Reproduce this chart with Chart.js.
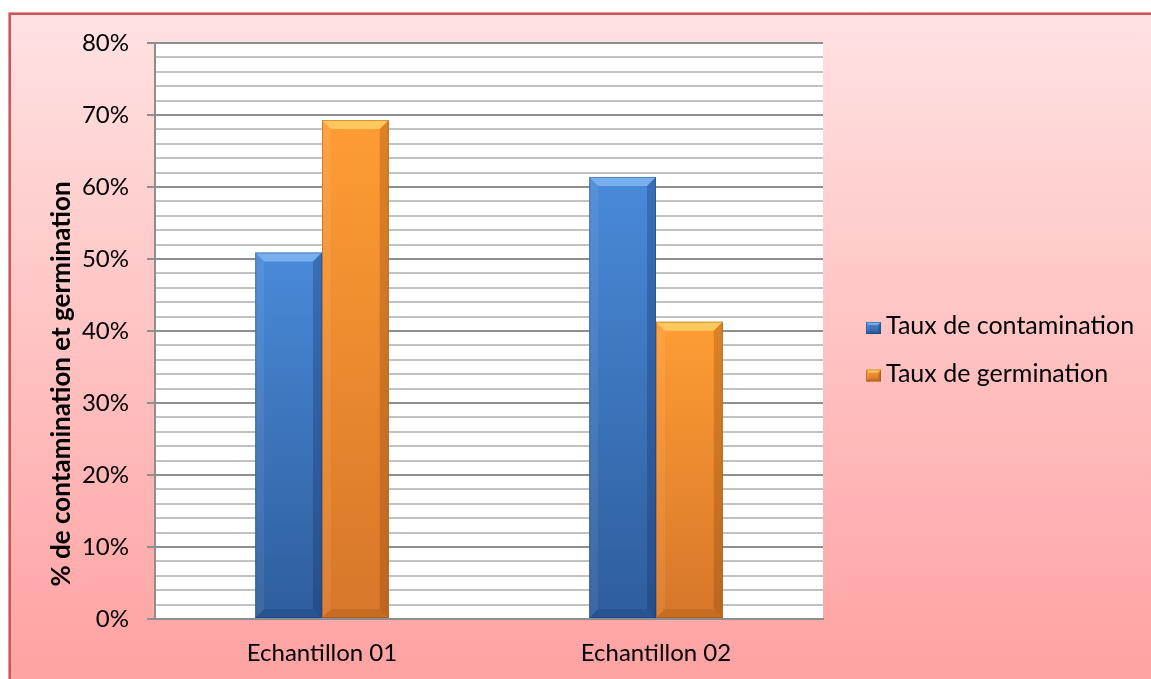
<!DOCTYPE html>
<html lang="fr">
<head>
<meta charset="utf-8">
<title>Taux de contamination et de germination</title>
<script src="https://cdn.jsdelivr.net/npm/chart.js@4.4.1/dist/chart.umd.min.js"></script>
<style>
  html, body { margin: 0; padding: 0; background: #ffffff; overflow: hidden; }
  #wrap { width: 1151px; height: 679px; }
</style>
</head>
<body>
<div id="wrap"><canvas id="chart" width="1151" height="679"></canvas></div>
<script>
// Samples on the category axis
const categories = ['Echantillon 01', 'Echantillon 02'];
// Series values, in percent
const contamination = [50.9, 61.4];
const germination = [69.3, 41.3];
const seriesNames = ['Taux de contamination', 'Taux de germination'];
// Value axis
const yMin = 0;
const yMax = 80;
const yMinorStep = 2;
const yMajorStep = 10;
const yTitle = '% de contamination et germination';

const FONT = 'Lato, "Liberation Sans", sans-serif';

// Shading for each series: body gradient and bevel facets
const TONES = [
  {
    bodyTop: '#4a8ad9', bodyBottom: '#2e5d9c',
    bevelTop: 'rgba(150,200,255,0.60)', bevelLeft: 'rgba(255,255,255,0.07)',
    bevelRight: 'rgba(15,40,95,0.28)', bevelBottom: 'rgba(15,40,95,0.18)',
    edge: 'rgba(25,55,110,0.40)'
  },
  {
    bodyTop: '#ff9c34', bodyBottom: '#d6772a',
    bevelTop: 'rgba(255,215,110,0.75)', bevelLeft: 'rgba(255,255,255,0.07)',
    bevelRight: 'rgba(120,55,0,0.26)', bevelBottom: 'rgba(120,55,0,0.16)',
    edge: 'rgba(140,70,10,0.40)'
  }
];

function barFill(seriesIndex) {
  return (context) => {
    const chart = context.chart;
    const area = chart.chartArea;
    const yScale = chart.scales.y;
    if (!area || !yScale || context.raw == null) return TONES[seriesIndex].bodyTop;
    const top = yScale.getPixelForValue(context.raw);
    const bottom = yScale.getPixelForValue(yMin);
    const g = chart.ctx.createLinearGradient(0, top, 0, bottom);
    g.addColorStop(0, TONES[seriesIndex].bodyTop);
    g.addColorStop(1, TONES[seriesIndex].bodyBottom);
    return g;
  };
}

// Pink panel behind the chart (its frame shows on the left and top), white plot area
const panelPlugin = {
  id: 'panel',
  beforeDraw(chart) {
    const { ctx, width, height, chartArea } = chart;
    ctx.save();
    ctx.fillStyle = '#ffffff';
    ctx.fillRect(0, 0, width, height);
    const fx = 9, fy = 13;
    const g = ctx.createLinearGradient(0, fy, 0, height);
    g.addColorStop(0, 'rgb(255,226,226)');
    g.addColorStop(1, 'rgb(255,162,162)');
    ctx.fillStyle = g;
    ctx.fillRect(fx, fy, width - fx, height - fy);

    ctx.beginPath();
    ctx.moveTo(fx - 0.5, height);
    ctx.lineTo(fx - 0.5, fy - 0.5);
    ctx.lineTo(width, fy - 0.5);
    ctx.strokeStyle = 'rgb(232,150,150)';
    ctx.lineWidth = 1;
    ctx.stroke();

    ctx.beginPath();
    ctx.moveTo(fx + 1, height);
    ctx.lineTo(fx + 1, fy + 1);
    ctx.lineTo(width, fy + 1);
    ctx.strokeStyle = '#c9575a';
    ctx.lineWidth = 2;
    ctx.stroke();

    ctx.fillStyle = '#ffffff';
    ctx.fillRect(chartArea.left, chartArea.top, chartArea.right - chartArea.left, chartArea.bottom - chartArea.top);
    ctx.restore();
  }
};

function poly(ctx, pts, fill) {
  ctx.beginPath();
  ctx.moveTo(pts[0][0], pts[0][1]);
  for (let i = 1; i < pts.length; i++) ctx.lineTo(pts[i][0], pts[i][1]);
  ctx.closePath();
  ctx.fillStyle = fill;
  ctx.fill();
}

function bevelBox(ctx, l, t, r, b, e, tone) {
  poly(ctx, [[l, t], [r, t], [r - e, t + e], [l + e, t + e]], tone.bevelTop);
  poly(ctx, [[l, t], [l + e, t + e], [l + e, b - e], [l, b]], tone.bevelLeft);
  poly(ctx, [[r, t], [r, b], [r - e, b - e], [r - e, t + e]], tone.bevelRight);
  poly(ctx, [[l, b], [r, b], [r - e, b - e], [l + e, b - e]], tone.bevelBottom);
  ctx.strokeStyle = tone.edge;
  ctx.lineWidth = 1;
  ctx.strokeRect(l + 0.5, t + 0.5, r - l - 1, b - t - 1);
}

// Bevelled look on top of every bar the library draws
const bevelPlugin = {
  id: 'bevel',
  afterDatasetsDraw(chart) {
    const ctx = chart.ctx;
    ctx.save();
    chart.data.datasets.forEach((ds, i) => {
      const meta = chart.getDatasetMeta(i);
      meta.data.forEach((bar) => {
        const { x, y, base, width } = bar.getProps(['x', 'y', 'base', 'width'], true);
        const l = x - width / 2, r = x + width / 2;
        const t = Math.min(y, base), b = Math.max(y, base);
        const e = Math.min(9, width / 4, (b - t) / 2);
        bevelBox(ctx, l, t, r, b, e, TONES[i]);
      });
    });
    ctx.restore();
  }
};

// Rotated value-axis title and the series key on the right
const sidePlugin = {
  id: 'side',
  afterDraw(chart) {
    const ctx = chart.ctx;
    ctx.save();
    ctx.fillStyle = '#000000';
    ctx.font = 'bold 26px ' + FONT;
    ctx.textAlign = 'center';
    ctx.textBaseline = 'middle';
    ctx.translate(62, 384);
    ctx.rotate(-Math.PI / 2);
    ctx.fillText(yTitle, 0, 0);
    ctx.restore();

    ctx.save();
    const keyX = 866, textX = 886;
    const baselines = [334, 381.5];
    chart.data.datasets.forEach((ds, i) => {
      const base = baselines[i];
      const tone = TONES[i];
      const kt = base - 12, kb = base;
      const g = ctx.createLinearGradient(0, kt, 0, kb);
      g.addColorStop(0, tone.bodyTop);
      g.addColorStop(1, tone.bodyBottom);
      ctx.fillStyle = g;
      ctx.fillRect(keyX, kt, 15, 12);
      bevelBox(ctx, keyX, kt, keyX + 15, kb, 3, tone);
      ctx.fillStyle = '#000000';
      ctx.font = '25px ' + FONT;
      ctx.textAlign = 'left';
      ctx.textBaseline = 'alphabetic';
      ctx.fillText(ds.label, textX, base);
    });
    ctx.restore();
  }
};

const isMajor = (v) => Math.abs(v % yMajorStep) < 1e-9;

new Chart(document.getElementById('chart'), {
  type: 'bar',
  data: {
    labels: categories,
    datasets: [
      {
        label: seriesNames[0],
        data: contamination,
        backgroundColor: barFill(0),
        borderWidth: 0,
        categoryPercentage: 0.4,
        barPercentage: 1.0
      },
      {
        label: seriesNames[1],
        data: germination,
        backgroundColor: barFill(1),
        borderWidth: 0,
        categoryPercentage: 0.4,
        barPercentage: 1.0
      }
    ]
  },
  options: {
    responsive: false,
    animation: false,
    devicePixelRatio: 1,
    layout: { padding: { left: 0, top: 43, right: 328, bottom: 0 } },
    plugins: {
      legend: { display: false },
      tooltip: { enabled: false }
    },
    scales: {
      x: {
        grid: { display: false, drawTicks: false },
        border: { display: true, color: '#8e8e8e', width: 2 },
        ticks: { padding: 20, color: '#000000', font: { family: FONT, size: 24 } },
        afterFit(scale) { scale.height = 60; }
      },
      y: {
        min: yMin,
        max: yMax,
        ticks: {
          stepSize: yMinorStep,
          autoSkip: false,
          padding: 18,
          color: '#000000',
          font: { family: FONT, size: 24 },
          callback: (v) => (isMajor(v) ? v + '%' : '')
        },
        grid: {
          lineWidth: 2,
          color: (c) => (c.tick && isMajor(c.tick.value) ? '#8e8e8e' : '#c2c2c2'),
          drawTicks: true,
          tickLength: 8,
          tickColor: (c) => (c.tick && isMajor(c.tick.value) ? '#8e8e8e' : 'rgba(0,0,0,0)')
        },
        border: { display: true, color: '#8e8e8e', width: 2 },
        afterFit(scale) { scale.width = 155; }
      }
    }
  },
  plugins: [panelPlugin, bevelPlugin, sidePlugin]
});
</script>
</body>
</html>
